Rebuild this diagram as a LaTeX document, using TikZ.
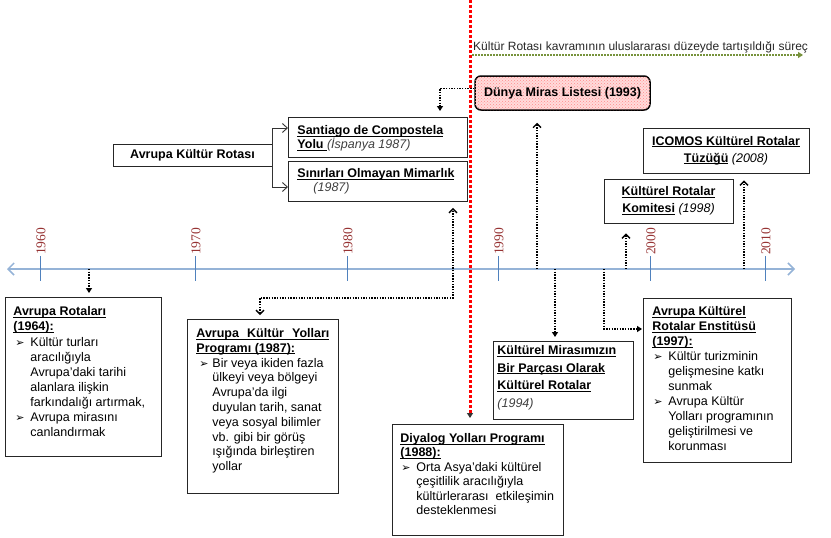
\documentclass[tikz,border=0pt]{standalone}
\usepackage{fontspec}
\setmainfont{Liberation Sans}
\newfontfamily\numfont{Liberation Serif}
\newfontfamily\dingfont{DejaVu Sans}
\usetikzlibrary{arrows.meta,calc,patterns}
\newsavebox\ulbox
\newcommand\uln[1]{\sbox\ulbox{#1}\rlap{\rule[-2pt]{\wd\ulbox}{0.8pt}}\usebox\ulbox}
\newcommand\bul{\raisebox{0pt}{\dingfont\fontsize{11}{11}\selectfont ➢}}
\newcommand\itm[2]{\par\leftskip=#1\noindent\llap{\makebox[#2][l]{\bul}}}
\newcommand\boxfont[1]{\fontsize{12.5}{#1}\selectfont\raggedright}
\definecolor{tlblue}{RGB}{149,179,215}
\definecolor{tickblue}{RGB}{79,129,189}
\definecolor{yrred}{RGB}{150,50,50}
\definecolor{olivegr}{RGB}{119,147,60}
\tikzset{
  box/.style={draw=black!85, line width=0.9pt, fill=white, inner ysep=0pt, anchor=north west},
  cbox/.style={draw=black!85, line width=0.9pt, fill=white, align=center, inner sep=2pt,
    font=\fontsize{12.5}{17}\selectfont},
  dotc/.style={draw=black, line width=1.5pt, dash pattern=on 1.4pt off 1.3pt},
  uptip/.style={-{Straight Barb[length=4pt,width=8pt,line width=1.4pt]}},
  dntip/.style={-{Triangle[length=5pt,width=6pt]}},
  brk/.style={draw=black!80, line width=0.9pt, -{Straight Barb[length=5pt,width=9pt,line width=0.9pt]}},
  timeline/.style={draw=tlblue, line width=2.5pt,
    {Straight Barb[length=6pt,width=12pt,line width=1.5pt]}-{Straight Barb[length=6pt,width=12pt,line width=1.5pt]}},
  tickln/.style={draw=tickblue, line width=1pt},
  yrlabel/.style={rotate=90, anchor=west, inner sep=0pt, text=yrred, font=\numfont\fontsize{13.5}{13.5}\selectfont},
  redline/.style={draw=red, line width=3pt, dash pattern=on 3pt off 2pt,
    -{Triangle[length=5pt,width=6pt,color=black!80]}},
  greenline/.style={draw=olivegr, line width=1.5pt, dash pattern=on 1.5pt off 1.5pt,
    -{Triangle[length=5pt,width=6pt]}}
}
\begin{document}
\begin{tikzpicture}[x=1pt,y=-1pt]
\useasboundingbox (0,0) rectangle (831,538);

% timeline
\coordinate (tl) at (7,269);
\coordinate (tr) at (795,269);
\draw[timeline] (tl) -- (tr);
\foreach \x/\yr in {40/1960,195/1970,347/1980,498/1990,650/2000,765/2010}{
  \draw[tickln] (\x,256) -- (\x,281);
  \node[yrlabel] (y\yr) at (\x+1,255) {\yr};
}
\coordinate (t89) at (89,269);
\coordinate (t537) at (537,269);
\coordinate (t555) at (555,269);
\coordinate (t604) at (604,269);
\coordinate (t626) at (626,269);
\coordinate (t744) at (744,269);

% upper boxes
\node[cbox, minimum width=159pt, minimum height=22pt, font=\bfseries\fontsize{12.5}{15}\selectfont] (rota) at (192.5,155) {Avrupa Kültür Rotası};

\node[box, inner xsep=9pt] (sant) at (288,117) {\parbox[t][40pt][t]{161pt}{\boxfont{14}\rule{0pt}{17pt}\textbf{\uln{Santiago de Compostela}}\\
\textbf{\uln{Yolu\ }}{\itshape\color{black!75}(İspanya 1987)}}};

\node[box, inner xsep=9pt] (sinir) at (288,161) {\parbox[t][40pt][t]{161pt}{\boxfont{14}\rule{0pt}{16pt}\textbf{\uln{Sınırları Olmayan Mimarlık}}\\
\hspace*{16pt}{\itshape\color{black!75}(1987)}}};

\node[draw=black, line width=1.5pt, rounded corners=6pt, minimum width=175pt, minimum height=34pt,
  fill=red!14, postaction={pattern=crosshatch dots, pattern color=red!45},
  font=\bfseries\fontsize{12.5}{15}\selectfont] (dunya) at (562.5,93) {Dünya Miras Listesi (1993)};

\node[cbox, minimum width=166pt, minimum height=45pt] (icomos) at (726,150.5)
  {\textbf{\uln{ICOMOS Kültürel Rotalar}}\\\textbf{\uln{Tüzüğü}} \textit{(2008)}};

\node[cbox, minimum width=129pt, minimum height=44pt] (komite) at (668.5,201)
  {\textbf{\uln{Kültürel Rotalar}}\\\textbf{\uln{Komitesi}} \textit{(1998)}};

% lower boxes
\node[box, inner xsep=8pt] (avrot) at (5,297) {\parbox[t][159pt][t]{140pt}{\boxfont{15}\rule{0pt}{18pt}\textbf{\uln{Avrupa Rotaları}}\\
\textbf{\uln{(1964):}}\par\vspace{1.5pt}
\itm{17pt}{15pt}Kültür turları\\aracılığıyla\\Avrupa’daki tarihi\\alanlara ilişkin\\farkındalığı artırmak,
\itm{17pt}{15pt}Avrupa mirasını\\canlandırmak}};

\node[box, inner xsep=9pt] (aky) at (187,319) {\parbox[t][174pt][t]{133pt}{\boxfont{14.8}\rule{0pt}{18pt}\textbf{\uln{\makebox[133pt][s]{Avrupa Kültür Yolları}}}\\
\textbf{\uln{Programı (1987):}}
\itm{16pt}{13pt}Bir veya ikiden fazla\\ülkeyi veya bölgeyi\\Avrupa’da ilgi\\duyulan tarih, sanat\\veya sosyal bilimler\\vb. gibi bir görüş\\ışığında birleştiren\\yollar}};

\node[box, inner xsep=4pt] (kmir) at (493,341) {\parbox[t][78pt][t]{132pt}{\boxfont{17.7}\rule{0pt}{13pt}\textbf{\uln{Kültürel Mirasımızın}}\\
\textbf{\uln{Bir Parçası Olarak}}\\\textbf{\uln{Kültürel Rotalar}}\\{\itshape\color{black!75}(1994)}}};

\node[box, inner xsep=8pt] (diyalog) at (392,424) {\parbox[t][111pt][t]{155pt}{\boxfont{14.5}\rule{0pt}{18pt}\textbf{\uln{Diyalog Yolları Programı}}\\
\textbf{\uln{(1988):}}
\itm{16pt}{15pt}Orta Asya’daki kültürel\\çeşitlilik aracılığıyla\\kültürlerarası\ \ etkileşimin\\desteklenmesi}};

\node[box, inner xsep=9pt] (enst) at (643,298) {\parbox[t][164pt][t]{130pt}{\boxfont{15}\rule{0pt}{17pt}\textbf{\uln{Avrupa Kültürel}}\\
\textbf{\uln{Rotalar Enstitüsü}}\\\textbf{\uln{(1997):}}
\itm{16pt}{15pt}Kültür turizminin\\gelişmesine katkı\\sunmak
\itm{16pt}{15pt}Avrupa Kültür\\Yolları programının\\geliştirilmesi ve\\korunması}};

% red divider and green process arrow
\coordinate (rtop) at (470,0);
\draw[redline, shorten >=6pt] (rtop) -- (diyalog.north -| rtop);
\coordinate (g1) at (472,55);
\coordinate (g2) at (803,55);
\draw[greenline] (g1) -- (g2);
\node[anchor=base west, inner sep=0pt, text=black!85, font=\fontsize{12}{14}\selectfont] (gtext) at (473,50)
  {Kültür Rotası kavramının uluslararası düzeyde tartışıldığı süreç};

% bracket
\coordinate (b1) at (0,128);
\coordinate (b2) at (0,187);
\draw[brk] (rota.east) |- (sant.west |- b1);
\draw[brk] (rota.east) |- (sinir.west |- b2);

% dotted connectors
\draw[dotc, dntip, shorten >=6pt] ($(dunya.north west)+(0,13)$) -| ($(sant.north west)+(152,0)$);
\draw[dotc, {Straight Barb[length=4pt,width=8pt,line width=1.4pt]}-{Straight Barb[length=4pt,width=8pt,line width=1.4pt]}, shorten <=4pt, shorten >=6pt]
  ($(aky.north west)+(73,0)$) |- ($(sinir.south west)+(165,96)$) -- ($(sinir.south west)+(165,0)$);
\draw[dotc, dntip, shorten >=4pt] (t89) -- (avrot.north -| t89);
\draw[dotc, uptip, shorten >=12pt] (t537) -- (dunya.south -| t537);
\draw[dotc, dntip, shorten >=4pt] (t555) -- (kmir.north -| t555);
\draw[dotc, dntip, shorten >=1pt] (t604) |- ($(enst.north west)+(0,31)$);
\draw[dotc, uptip, shorten >=10pt] (t626) -- (komite.south -| t626);
\draw[dotc, uptip, shorten >=7pt] (t744) -- (icomos.south -| t744);
\end{tikzpicture}
\end{document}
